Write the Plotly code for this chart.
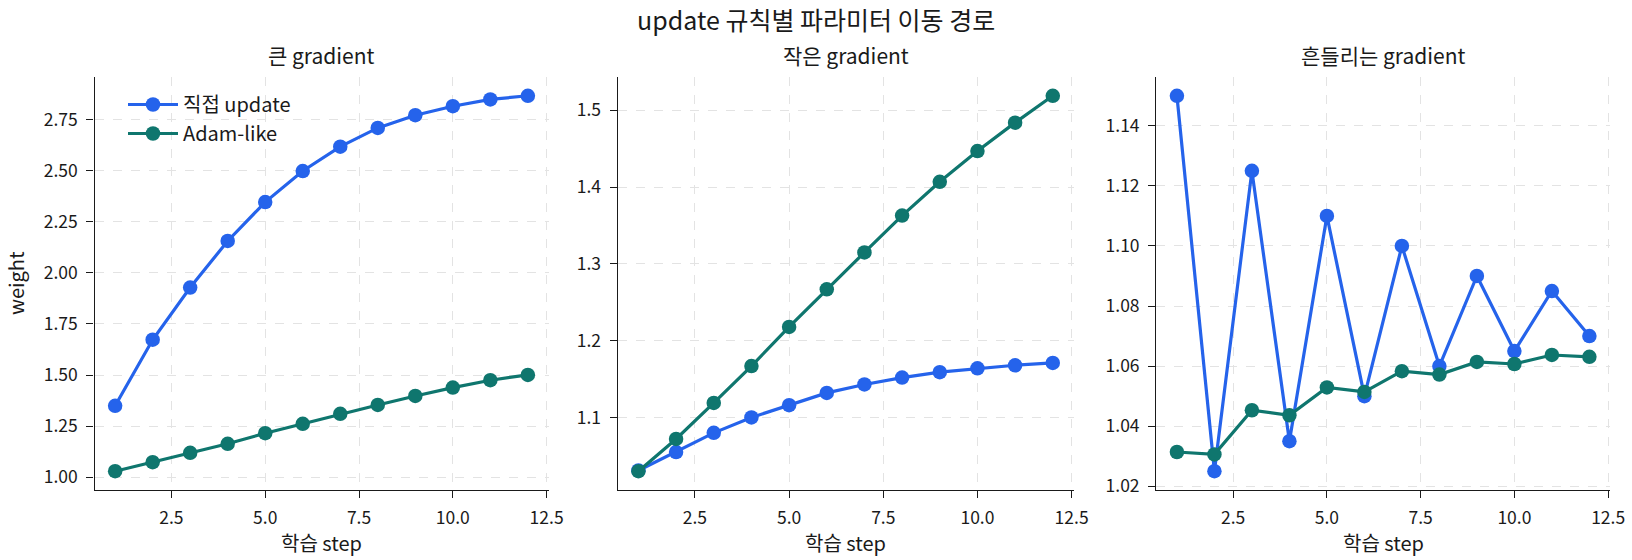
import plotly.graph_objects as go

steps = list(range(1, 13))

large_direct = [1.35, 1.673, 1.928, 2.156, 2.346, 2.498, 2.617, 2.709, 2.771, 2.815, 2.848, 2.866]
large_adam = [1.03, 1.074, 1.12, 1.164, 1.216, 1.262, 1.311, 1.354, 1.398, 1.439, 1.475, 1.501]

small_direct = [1.031, 1.055, 1.080, 1.100, 1.116, 1.132, 1.143, 1.152, 1.159, 1.164, 1.168, 1.171]
small_adam = [1.030, 1.072, 1.119, 1.167, 1.218, 1.267, 1.315, 1.363, 1.407, 1.447, 1.484, 1.519]

noisy_direct = [1.150, 1.025, 1.125, 1.035, 1.110, 1.050, 1.100, 1.060, 1.090, 1.065, 1.085, 1.070]
noisy_adam = [1.0314, 1.0306, 1.0453, 1.0436, 1.0529, 1.0514, 1.0583, 1.0572, 1.0614, 1.0607, 1.0637, 1.0631]

panel_titles = ["큰 gradient", "작은 gradient", "흔들리는 gradient"]
series_names = ["직접 update", "Adam-like"]
main_title = "update 규칙별 파라미터 이동 경로"
x_label = "학습 step"
y_label = "weight"

x_ticks = [2.5, 5.0, 7.5, 10.0, 12.5]
y_ticks = [
    [1.00, 1.25, 1.50, 1.75, 2.00, 2.25, 2.50, 2.75],
    [1.1, 1.2, 1.3, 1.4, 1.5],
    [1.02, 1.04, 1.06, 1.08, 1.10, 1.12, 1.14],
]
y_formats = [".2f", ".1f", ".2f"]

BLUE = "#2563eb"
GREEN = "#0f766e"
FONT = "Noto Sans CJK KR"
W, H = 1632, 560

panels = [(large_direct, large_adam), (small_direct, small_adam), (noisy_direct, noisy_adam)]
x_px = [(94.5, 548.5), (617.7, 1073.5), (1156.3, 1610.0)]
y_top, y_bot = 77, 490


def pad_range(vals):
    lo, hi = min(vals), max(vals)
    m = (hi - lo) * 0.05
    return [lo - m, hi + m]


fig = go.Figure()
layout = dict(
    width=W, height=H,
    margin=dict(l=0, r=0, t=0, b=0),
    paper_bgcolor="white", plot_bgcolor="white",
    font=dict(family=FONT, color="#1a1a1a", size=17),
    showlegend=True,
    legend=dict(x=123 / W, y=1 - 85 / H, xanchor="left", yanchor="top",
                bgcolor="rgba(0,0,0,0)", font=dict(size=20), tracegroupgap=0,
                itemwidth=50),
    annotations=[],
)

xr = pad_range(steps)
for i, (d, a) in enumerate(panels):
    n = "" if i == 0 else str(i + 1)
    xa, ya = "x" + n, "y" + n
    for vals, name, color in ((d, series_names[0], BLUE), (a, series_names[1], GREEN)):
        fig.add_trace(go.Scatter(
            x=steps, y=vals, mode="lines+markers", name=name,
            line=dict(color=color, width=3.2),
            marker=dict(color=color, size=14.5),
            xaxis=xa, yaxis=ya, showlegend=(i == 0),
        ))
    x0, x1 = x_px[i]
    common = dict(showline=True, linecolor="#1a1a1a", linewidth=1.4, mirror=False,
                  ticks="outside", ticklen=7, tickwidth=1.3, tickcolor="#1a1a1a",
                  showgrid=True, gridcolor="#e3e3e3", griddash="dash", gridwidth=1.1,
                  zeroline=False, automargin=False, tickfont=dict(size=17.5))
    layout["xaxis" + n] = dict(domain=[x0 / W, x1 / W], range=xr, tickvals=x_ticks,
                               tickformat=".1f", anchor=ya, ticklabelstandoff=5, **common)
    layout["yaxis" + n] = dict(domain=[1 - y_bot / H, 1 - y_top / H],
                               range=pad_range(d + a), tickvals=y_ticks[i],
                               tickformat=y_formats[i], anchor=xa, ticklabelstandoff=5,
                               **common)
    cx = (x0 + x1) / 2 / W
    layout["annotations"].append(dict(text=panel_titles[i], x=cx, y=1 - 55 / H,
                                      xref="paper", yref="paper", showarrow=False,
                                      font=dict(size=21), xanchor="center", yanchor="middle"))
    layout["annotations"].append(dict(text=x_label, x=cx, y=1 - 542 / H,
                                      xref="paper", yref="paper", showarrow=False,
                                      font=dict(size=20), xanchor="center", yanchor="middle"))

layout["annotations"].append(dict(text=y_label, x=15 / W, y=1 - 283 / H, textangle=-90,
                                  xref="paper", yref="paper", showarrow=False,
                                  font=dict(size=20), xanchor="center", yanchor="middle"))
layout["annotations"].append(dict(text=main_title, x=0.5, y=1 - 19 / H,
                                  xref="paper", yref="paper", showarrow=False,
                                  font=dict(size=25), xanchor="center", yanchor="middle"))

fig.update_layout(**layout)
fig.write_html("out.html")
